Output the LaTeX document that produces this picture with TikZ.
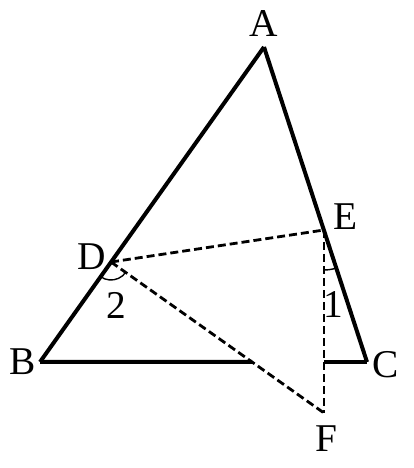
\documentclass[tikz,border=0pt]{standalone}
\usepackage{fontspec}
\setmainfont{Liberation Serif}

\begin{document}
\begin{tikzpicture}
[x=0.25mm,y=0.25mm,%
  solidDecorate/.style={-,line width=1mm,line join=miter},%
  dashDecorate/.style={-,line width=0.7mm,dash pattern=on 2mm off 1mm},%
  angleDecorate/.style={line width=0.35mm},%
  labelDecorate/.style={inner sep=0pt,font=\fontsize{28}{30}\selectfont}]
\useasboundingbox (0,0) rectangle (414,468);
%% points of the figure
\foreach \nodename/\x/\y in {
  A/264/421, B/40/106, C/367/106, D/111/206,
  E/324/238, F/324/55}
{
  \coordinate (\nodename) at (\x,\y);
}
\coordinate (G) at (intersection of D--F and B--C);
\coordinate (H) at (E |- B);
%% letters
\foreach \nodename/\x/\y/\txt in {
  A/264/444/A, B/23/106/B, C/386/103/C, D/92/211/D,
  E/346/251/E, F/326/29/F, two/116/163/2, one/333/163/1}
{
  \node (lbl\nodename) at (\x,\y) [labelDecorate] {\txt};
}
%% sides
\path
\foreach \startnode/\endnode in {A/B, A/C, B/G, H/C}
{
  (\startnode) edge[solidDecorate] node {} (\endnode)
};
%% dashed lines
\path
\foreach \startnode/\endnode in {D/E, D/F, E/F}
{
  (\startnode) edge[dashDecorate] node {} (\endnode)
};
%% angles 1 and 2
\draw[angleDecorate] ([shift={(234.6:18)}]D) arc[start angle=234.6,end angle=324.7,radius=18];
\draw[angleDecorate] ([shift={(-90:40)}]E) arc[start angle=-90,end angle=-72,radius=40];
\end{tikzpicture}
\end{document}
